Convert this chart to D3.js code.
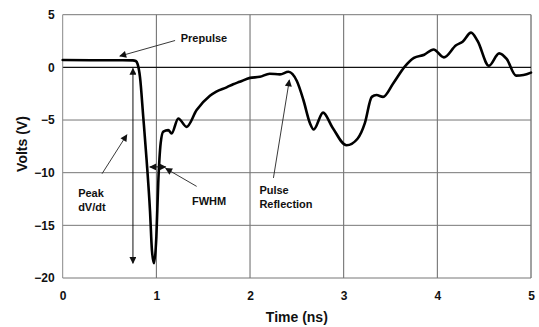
<!DOCTYPE html>
<html>
<head>
<meta charset="utf-8">
<script src="https://cdn.jsdelivr.net/npm/d3@7/dist/d3.min.js"></script>
<style>
  html, body { margin: 0; padding: 0; background: #fff; }
  svg { display: block; font-family: "Liberation Sans", Arial, sans-serif; }
</style>
</head>
<body>
<svg id="chart" width="539" height="327"></svg>
<script>
// ---- data ----
const timeNs = [0, 0.3, 0.6, 0.75, 0.78, 0.8, 0.825, 0.86, 0.896, 0.932, 0.953, 0.975, 1.0, 1.02, 1.046, 1.074, 1.127, 1.163, 1.234, 1.323, 1.43, 1.572, 1.64, 1.75, 1.82, 1.89, 2.0, 2.105, 2.21, 2.32, 2.41, 2.5, 2.57, 2.64, 2.68, 2.78, 2.88, 3.03, 3.15, 3.226, 3.3, 3.35, 3.42, 3.53, 3.65, 3.75, 3.86, 3.96, 4.07, 4.2, 4.27, 4.36, 4.43, 4.55, 4.66, 4.74, 4.84, 4.92, 5.0];
const volts  = [0.7, 0.68, 0.67, 0.66, 0.6, 0.3, -0.9, -4.7, -8.8, -13.6, -17.4, -18.6, -16.1, -11, -7.2, -6.1, -5.96, -6.27, -4.85, -5.65, -4.06, -2.7, -2.3, -1.9, -1.6, -1.37, -1.0, -0.9, -0.6, -0.67, -0.42, -1.3, -3.1, -5.3, -5.9, -4.3, -5.7, -7.4, -6.75, -5.3, -2.8, -2.63, -2.8, -1.5, 0.05, 0.9, 1.2, 1.7, 0.95, 2.1, 2.43, 3.3, 2.5, 0.15, 1.33, 0.8, -0.78, -0.73, -0.5];
const xTicks = [0, 1, 2, 3, 4, 5];
const yTicks = [5, 0, -5, -10, -15, -20];
const xTitle = "Time (ns)";
const yTitle = "Volts (V)";

// annotations in data units: [t1, v1, t2, v2]
const pointerArrows = [
  [1.2, 2.55, 0.61, 1.07],     // Prepulse
  [0.42, -10.1, 0.685, -6.4],  // Peak dV/dt
  [1.43, -11.3, 1.1, -9.6],    // FWHM
  [2.25, -10.5, 2.42, -1.2]    // Pulse Reflection
];
const doubleArrows = [
  [0.75, -0.1, 0.75, -18.6],   // Peak dV/dt span
  [0.93, -9.45, 1.1, -9.45]    // FWHM span
];
const labels = [
  {t: 1.26, v: 2.45, lines: ["Prepulse"]},
  {t: 0.165, v: -12.3, lines: ["Peak", "dV/dt"]},
  {t: 1.38, v: -13.1, lines: ["FWHM"]},
  {t: 2.1, v: -12.0, lines: ["Pulse", "Reflection"]}
];

// ---- layout ----
const svg = d3.select("#chart");
const x = d3.scaleLinear().domain([0, 5]).range([62.7, 531]);
const y = d3.scaleLinear().domain([-20, 5]).range([278, 14.7]);

// grid
const g = svg.append("g");
g.selectAll(".vg").data(xTicks.slice(1)).join("line")
  .attr("x1", d => x(d)).attr("x2", d => x(d))
  .attr("y1", y(5)).attr("y2", y(-20))
  .attr("stroke", d => d === 5 ? "#444" : "#666").attr("stroke-width", 1);
g.selectAll(".hg").data(yTicks).join("line")
  .attr("x1", x(0)).attr("x2", x(5))
  .attr("y1", d => y(d)).attr("y2", d => y(d))
  .attr("stroke", d => d === 0 ? "#111" : "#777")
  .attr("stroke-width", d => d === 0 ? 1.2 : 1);
// left axis line
g.append("line").attr("x1", x(0)).attr("x2", x(0)).attr("y1", y(5)).attr("y2", y(-20))
  .attr("stroke", "#888").attr("stroke-width", 1);

// axes labels via d3 axes
const xAxis = d3.axisBottom(x).tickValues(xTicks).tickFormat(d3.format("d")).tickSize(0).tickPadding(0);
const gx = svg.append("g").attr("transform", `translate(0,${y(-20)})`).call(xAxis);
gx.select(".domain").remove();
gx.selectAll("text").attr("y", 13).attr("dy", "0.71em")
  .attr("font-size", 12).attr("font-weight", "bold").attr("fill", "#111")
  .attr("font-family", "Liberation Sans, Arial, sans-serif");

const yAxis = d3.axisLeft(y).tickValues(yTicks).tickFormat(d3.format("d")).tickSize(0).tickPadding(8);
const gy = svg.append("g").attr("transform", `translate(${x(0)},0)`).call(yAxis);
gy.select(".domain").remove();
gy.selectAll("text").attr("font-size", 12).attr("font-weight", "bold").attr("fill", "#111")
  .attr("font-family", "Liberation Sans, Arial, sans-serif");

// titles
svg.append("text").attr("x", (x(0) + x(5)) / 2).attr("y", 322)
  .attr("text-anchor", "middle").attr("font-size", 14).attr("font-weight", "bold").attr("fill", "#111")
  .text(xTitle);
svg.append("text").attr("transform", `translate(27,${144}) rotate(-90)`)
  .attr("text-anchor", "middle").attr("font-size", 14).attr("font-weight", "bold").attr("fill", "#111")
  .text(yTitle);

// markers
const defs = svg.append("defs");
defs.append("marker").attr("id", "ah").attr("viewBox", "0 0 10 10")
  .attr("refX", 9).attr("refY", 5).attr("markerWidth", 9).attr("markerHeight", 7)
  .attr("markerUnits", "userSpaceOnUse").attr("orient", "auto-start-reverse")
  .append("path").attr("d", "M0,0 L10,5 L0,10 Z").attr("fill", "#111");

// signal curve
const data = timeNs.map((t, i) => [t, volts[i]]);
svg.append("path").datum(data)
  .attr("fill", "none").attr("stroke", "#000").attr("stroke-width", 2.6)
  .attr("stroke-linejoin", "round").attr("stroke-linecap", "round")
  .attr("d", d3.line().x(d => x(d[0])).y(d => y(d[1])).curve(d3.curveMonotoneX));

// annotation arrows
svg.selectAll(".pa").data(pointerArrows).join("line")
  .attr("x1", d => x(d[0])).attr("y1", d => y(d[1]))
  .attr("x2", d => x(d[2])).attr("y2", d => y(d[3]))
  .attr("stroke", "#222").attr("stroke-width", 0.9)
  .attr("marker-end", "url(#ah)");
svg.selectAll(".da").data(doubleArrows).join("line")
  .attr("x1", d => x(d[0])).attr("y1", d => y(d[1]))
  .attr("x2", d => x(d[2])).attr("y2", d => y(d[3]))
  .attr("stroke", "#111").attr("stroke-width", 1)
  .attr("marker-start", "url(#ah)").attr("marker-end", "url(#ah)");

// annotation labels
const lt = svg.selectAll(".lab").data(labels).join("text")
  .attr("x", d => x(d.t)).attr("y", d => y(d.v))
  .attr("font-size", 11).attr("font-weight", "bold").attr("fill", "#111");
lt.selectAll("tspan").data(d => d.lines.map(s => ({s, t: d.t}))).join("tspan")
  .attr("x", d => x(d.t)).attr("dy", (d, i) => i === 0 ? 0 : 14)
  .text(d => d.s);
</script>
</body>
</html>
